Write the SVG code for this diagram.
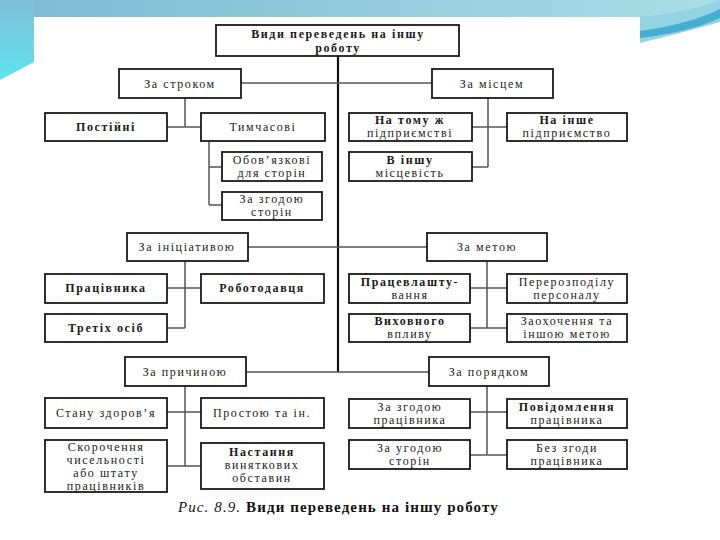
<svg xmlns="http://www.w3.org/2000/svg" width="720" height="540" viewBox="0 0 720 540">
<defs>
<linearGradient id="band" x1="0" y1="0" x2="1" y2="0">
<stop offset="0" stop-color="#7db9d2"/>
<stop offset="1" stop-color="#a9dee6"/>
</linearGradient>
<linearGradient id="leftg" x1="0" y1="0" x2="0" y2="1">
<stop offset="0" stop-color="#7fbfd6"/>
<stop offset="1" stop-color="#5fe3f0"/>
</linearGradient>
<style>
.box{fill:#fff;stroke:#1a1a1a;stroke-width:1.8}
.t{font-family:"Liberation Serif","Times New Roman",serif;font-size:12px;fill:#1a1a1a;text-anchor:middle;letter-spacing:1.6px}
.b{font-weight:bold}
.c{stroke:#555;stroke-width:1.5;fill:none}
.trunk{stroke:#111;stroke-width:2.2;fill:none}
.cap{font-family:"Liberation Serif","Times New Roman",serif;font-size:15px;fill:#111;letter-spacing:1.1px}
</style>
</defs>
<g id="background">
<rect x="0" y="0" width="720" height="540" fill="#fff"/>
<rect x="0" y="0" width="720" height="17" fill="url(#band)"/>
<polygon points="0,0 34,0 34,62 0,80" fill="url(#leftg)"/>
<path d="M640,17 L640,43 Q685,32 720,22 L720,0 Q690,12 640,17 Z" fill="#93d3e3"/>
<path d="M640,31 Q690,24 720,9 L720,18 Q690,32 640,38 Z" fill="#45aed2"/>
<rect x="34" y="17" width="606" height="508" fill="#fff"/>
</g>
<g id="connectors">
<path class="trunk" d="M338,56 V372"/>
<path class="c" d="M241,83 H432 M248,247 H427 M246,372 H429"/>
<path class="c" d="M185,98 V127 M167,127 H201"/>
<path class="c" d="M209,141 V205 M209,167 H222 M209,205 H222"/>
<path class="c" d="M488,98 V167 M472,127 H507 M472,167 H488"/>
<path class="c" d="M185,261 V328 M167,288 H201 M167,328 H185"/>
<path class="c" d="M487,261 V328 M470,288 H507 M470,328 H507"/>
<path class="c" d="M185,386 V466 M167,412 H201 M167,466 H201"/>
<path class="c" d="M487,386 V455 M470,412 H507 M470,455 H507"/>
</g>
<g id="n-title"><rect class="box" x="216" y="25" width="243" height="31"/><text class="t b" x="338" y="38">Види переведень на іншу</text><text class="t b" x="338" y="52">роботу</text></g>
<g id="n-strokom"><rect class="box" x="119" y="69" width="122" height="29"/><text class="t" x="180" y="88">За строком</text></g>
<g id="n-mistsem"><rect class="box" x="432" y="69" width="121" height="29"/><text class="t" x="492" y="88">За місцем</text></g>
<g id="n-postiyni"><rect class="box" x="45" y="113" width="122" height="28"/><text class="t b" x="106" y="131">Постійні</text></g>
<g id="n-tymchasovi"><rect class="box" x="201" y="113" width="124" height="28"/><text class="t" x="263" y="131">Тимчасові</text></g>
<g id="n-oboviazkovi"><rect class="box" x="222" y="152" width="100" height="29"/><text class="t" x="272" y="164">Обов’язкові</text><text class="t" x="272" y="177">для сторін</text></g>
<g id="n-zgodoiu-storin"><rect class="box" x="222" y="192" width="100" height="28"/><text class="t" x="272" y="203">За згодою</text><text class="t" x="272" y="216">сторін</text></g>
<g id="n-tomu-zh"><rect class="box" x="349" y="113" width="123" height="28"/><text class="t b" x="410" y="124">На тому ж</text><text class="t" x="410" y="137">підприємстві</text></g>
<g id="n-inshe"><rect class="box" x="507" y="113" width="120" height="28"/><text class="t b" x="567" y="124">На інше</text><text class="t" x="567" y="137">підприємство</text></g>
<g id="n-mistsevist"><rect class="box" x="349" y="152" width="123" height="29"/><text class="t b" x="410" y="164">В іншу</text><text class="t" x="410" y="177">місцевість</text></g>
<g id="n-initsiatyvoiu"><rect class="box" x="127" y="233" width="121" height="28"/><text class="t" x="187" y="251">За ініціативою</text></g>
<g id="n-metoiu"><rect class="box" x="427" y="233" width="120" height="28"/><text class="t" x="487" y="251">За метою</text></g>
<g id="n-pratsivnyka"><rect class="box" x="45" y="274" width="122" height="29"/><text class="t b" x="106" y="292">Працівника</text></g>
<g id="n-robotodavtsia"><rect class="box" x="201" y="274" width="123" height="29"/><text class="t b" x="262" y="292">Роботодавця</text></g>
<g id="n-tretikh"><rect class="box" x="45" y="314" width="122" height="28"/><text class="t b" x="106" y="332">Третіх осіб</text></g>
<g id="n-pratsevl"><rect class="box" x="349" y="274" width="121" height="29"/><text class="t b" x="410" y="286">Працевлашту-</text><text class="t" x="410" y="299">вання</text></g>
<g id="n-pererozpodil"><rect class="box" x="507" y="274" width="120" height="29"/><text class="t" x="567" y="286">Перерозподілу</text><text class="t" x="567" y="299">персоналу</text></g>
<g id="n-vykhovnoho"><rect class="box" x="349" y="314" width="121" height="28"/><text class="t b" x="410" y="325">Виховного</text><text class="t" x="410" y="338">впливу</text></g>
<g id="n-zaokhochennia"><rect class="box" x="507" y="314" width="120" height="28"/><text class="t" x="567" y="325">Заохочення та</text><text class="t" x="567" y="338">іншою метою</text></g>
<g id="n-prychynoiu"><rect class="box" x="125" y="357" width="121" height="29"/><text class="t" x="185" y="376">За причиною</text></g>
<g id="n-poriadkom"><rect class="box" x="429" y="357" width="120" height="29"/><text class="t" x="489" y="376">За порядком</text></g>
<g id="n-stanu"><rect class="box" x="45" y="398" width="122" height="30"/><text class="t" x="106" y="417">Стану здоров’я</text></g>
<g id="n-prostoiu"><rect class="box" x="201" y="398" width="123" height="30"/><text class="t" x="262" y="417">Простою та ін.</text></g>
<g id="n-skorochennia"><rect class="box" x="45" y="440" width="122" height="52"/><text class="t" x="106" y="451">Скорочення</text><text class="t" x="106" y="464">чисельності</text><text class="t" x="106" y="477">або штату</text><text class="t" x="106" y="490">працівників</text></g>
<g id="n-nastannia"><rect class="box" x="201" y="443" width="123" height="46"/><text class="t b" x="262" y="456">Настання</text><text class="t" x="262" y="469">виняткових</text><text class="t" x="262" y="482">обставин</text></g>
<g id="n-zgodoiu-prats"><rect class="box" x="349" y="399" width="121" height="29"/><text class="t" x="410" y="411">За згодою</text><text class="t" x="410" y="424">працівника</text></g>
<g id="n-povidomlennia"><rect class="box" x="507" y="399" width="120" height="29"/><text class="t b" x="567" y="411">Повідомлення</text><text class="t" x="567" y="424">працівника</text></g>
<g id="n-uhodoiu"><rect class="box" x="349" y="440" width="121" height="29"/><text class="t" x="410" y="452">За угодою</text><text class="t" x="410" y="465">сторін</text></g>
<g id="n-bez-zghody"><rect class="box" x="507" y="440" width="120" height="29"/><text class="t" x="567" y="452">Без згоди</text><text class="t" x="567" y="465">працівника</text></g>
<g id="caption"><text class="cap" x="178" y="512"><tspan font-style="italic">Рис. 8.9.</tspan> <tspan font-weight="bold">Види переведень на іншу роботу</tspan></text></g>
</svg>
